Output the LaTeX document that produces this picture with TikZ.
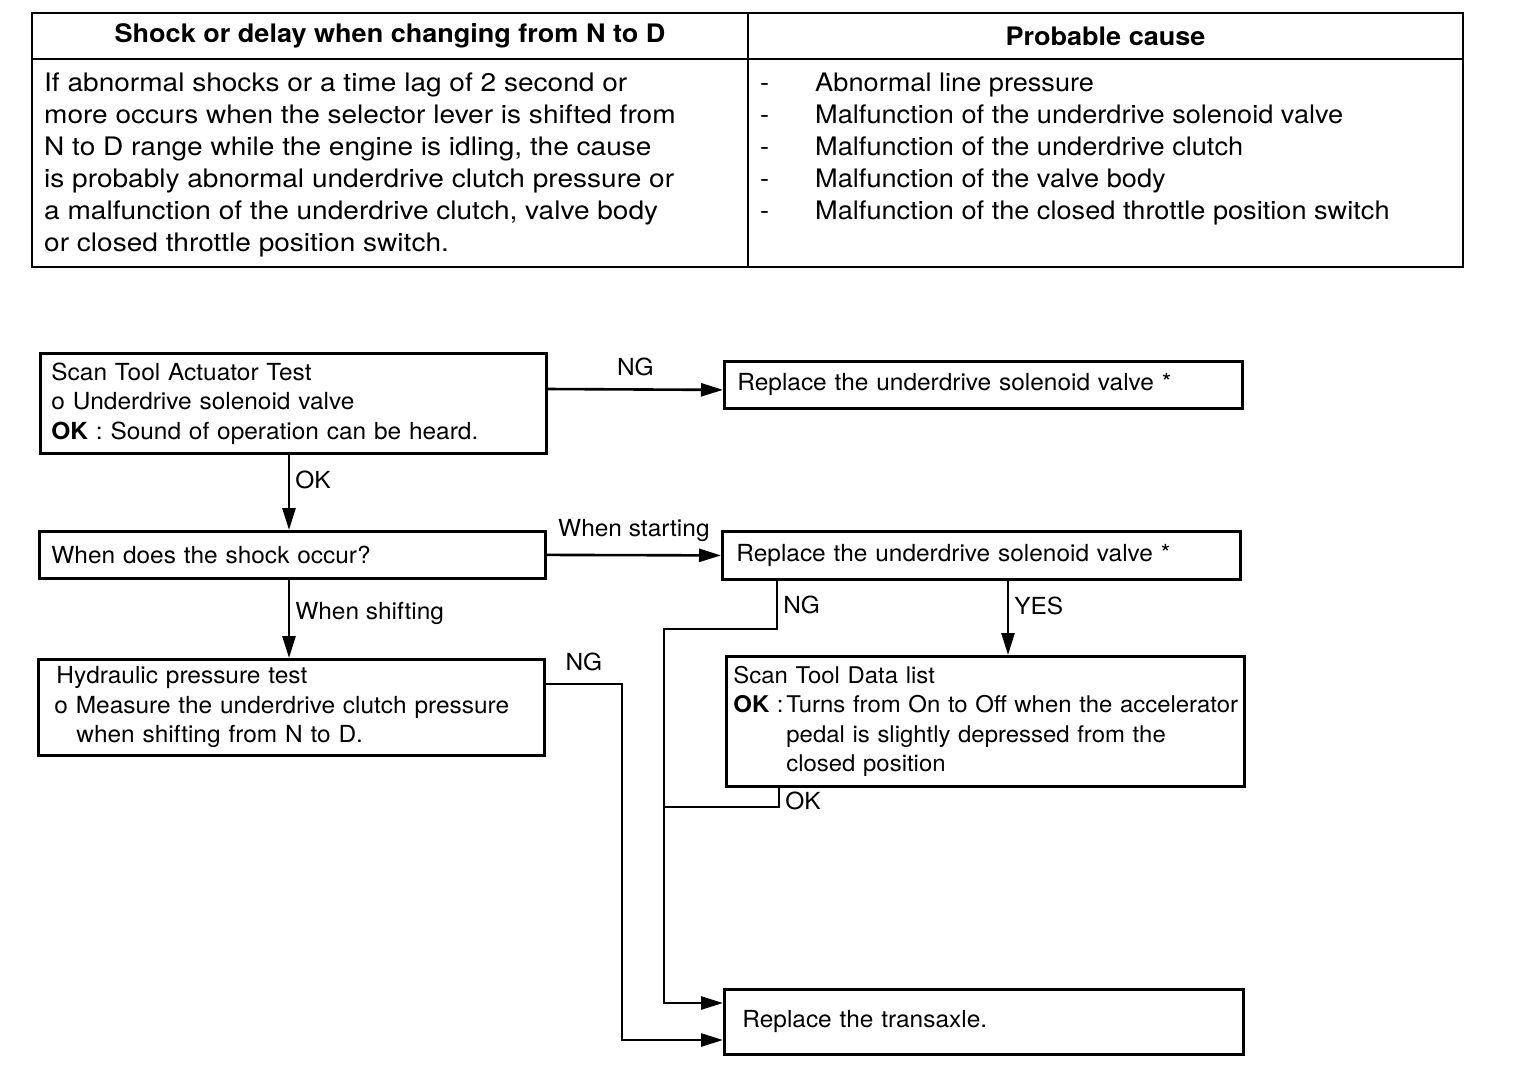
\documentclass[tikz,border=0pt]{standalone}
\usepackage{fontspec}
\setmainfont{TeX Gyre Heros}
\newfontfamily\flowfont[FakeStretch=1.04]{TeX Gyre Heros}
\newfontfamily\symptomfont[FakeStretch=1.1]{TeX Gyre Heros}
\newfontfamily\causefont[FakeStretch=1.065]{TeX Gyre Heros}
\newfontfamily\headfont[FakeStretch=1.06]{TeX Gyre Heros}
\usepackage{tikz}
\usetikzlibrary{arrows.meta}
\usetikzlibrary{positioning}

\begin{document}
\begin{tikzpicture}[x=1pt, y=-1pt,
        cell/.style={draw, line width=2pt, anchor=north west, inner sep=0pt},
        box/.style={draw, line width=2.8pt, anchor=north west, inner ysep=0pt,
            align=left, font=\flowfont\fontsize{23.5}{29.5}\selectfont},
        flow/.style={line width=2.6pt, -{Triangle[length=22pt, width=13pt]}},
        line/.style={line width=2.6pt},
        lbl/.style={font=\flowfont\fontsize{23.5}{29.5}\selectfont, inner sep=5pt},
        lblup/.style={lbl, above, yshift=7pt}]
    \useasboundingbox (0,0) rectangle (1536,1080);

    % table
    \node[cell, minimum width=716pt, minimum height=46pt] (headl) at (31,12) {};
    \node[cell, minimum width=715pt, minimum height=46pt] (headr) at (747,12) {};
    \node[cell, minimum width=716pt, minimum height=208pt] (bodyl) at (31,58) {};
    \node[cell, minimum width=715pt, minimum height=208pt] (bodyr) at (747,58) {};
    \node[font=\headfont\fontsize{25.5}{30}\selectfont\bfseries] at (headl.center) {Shock or delay when changing from N to D};
    \node[font=\headfont\fontsize{25.5}{30}\selectfont\bfseries] at (headr.center) {Probable cause};
    \node[anchor=north west, inner sep=0pt, align=left, font=\symptomfont\fontsize{25.5}{32}\selectfont] (symptom) at (44,73)
        {If abnormal shocks or a time lag of 2 second or\\
         more occurs when the selector lever is shifted from\\
         N to D range while the engine is idling, the cause\\
         is probably abnormal underdrive clutch pressure or\\
         a malfunction of the underdrive clutch, valve body\\
         or closed throttle position switch.};
    \node[anchor=north west, inner sep=0pt, align=left, font=\causefont\fontsize{25.5}{32}\selectfont] (causes) at (760,73)
        {\makebox[55pt][l]{-}Abnormal line pressure\\
         \makebox[55pt][l]{-}Malfunction of the underdrive solenoid valve\\
         \makebox[55pt][l]{-}Malfunction of the underdrive clutch\\
         \makebox[55pt][l]{-}Malfunction of the valve body\\
         \makebox[55pt][l]{-}Malfunction of the closed throttle position switch};

    % flow chart
    \node[box, inner xsep=11pt, text width=484pt, minimum height=100pt] (act) at (39,352)
        {Scan Tool Actuator Test\\
         o Underdrive solenoid valve\\
         \textbf{OK} : Sound of operation can be heard.};
    \node[box, inner xsep=13pt, text width=492pt, minimum height=47pt] (rep1) at (723,360)
        {Replace the underdrive solenoid valve *};
    \node[box, inner xsep=12pt, text width=482pt, minimum height=47pt] (shock) at (38,530)
        {When does the shock occur?};
    \node[box, inner xsep=14pt, text width=490pt, minimum height=48pt] (rep2) at (721,530)
        {Replace the underdrive solenoid valve *};
    \node[box, inner xsep=16pt, text width=474pt, minimum height=96pt] (hyd) at (37,658)
        {\hspace*{2pt}Hydraulic pressure test\\
         o Measure the underdrive clutch pressure\\
         \hspace*{22pt}when shifting from N to D.};
    \node[box, inner xsep=7pt, text width=504pt, minimum height=130pt,
          font=\flowfont\fontsize{23}{29.5}\selectfont] (data) at (725,655)
        {\mbox{Scan Tool Data list}\\
         \mbox{\makebox[53pt][l]{\textbf{OK} :}Turns from On to Off when the accelerator}\\
         \mbox{\hspace*{53pt}pedal is slightly depressed from the}\\
         \mbox{\hspace*{53pt}closed position}};
    \node[box, inner xsep=18pt, text width=483pt, minimum height=65pt] (trans) at (723,988)
        {Replace the transaxle.};

    \coordinate (ngdown) at (777,629);
    \coordinate (trunk) at (664,629);
    \coordinate (okdown) at (779,807);
    \coordinate (ngright) at (622,684);

    \draw[flow] (act.east |- 0,389) -- node[lblup] {NG} ([yshift=-5pt]rep1.west);
    \draw[flow] (289,452) -- node[lbl, right, pos=0.36] {OK} (289,530);
    \draw[flow] (shock.east) -- node[lblup] {When starting} (rep2.west);
    \draw[flow] (289,577) -- node[lbl, right, pos=0.45] {When shifting} (289,658);
    \draw[flow] (1008,578) -- node[lbl, right, pos=0.36] {YES} (1008,655);
    \draw[flow] (ngdown |- rep2.south) -- node[lbl, right, pos=0.5] {NG} (ngdown) -- (trunk)
        -- (trunk |- 0,1003) -- (trans.west |- 0,1003);
    \draw[line] (okdown |- data.south) -- node[lbl, right, pos=0.7] {OK} (okdown) -- (trunk |- okdown);
    \draw[flow] (hyd.east |- ngright) -- node[lblup] {NG} (ngright)
        -- (ngright |- 0,1040) -- (trans.west |- 0,1040);
\end{tikzpicture}
\end{document}
